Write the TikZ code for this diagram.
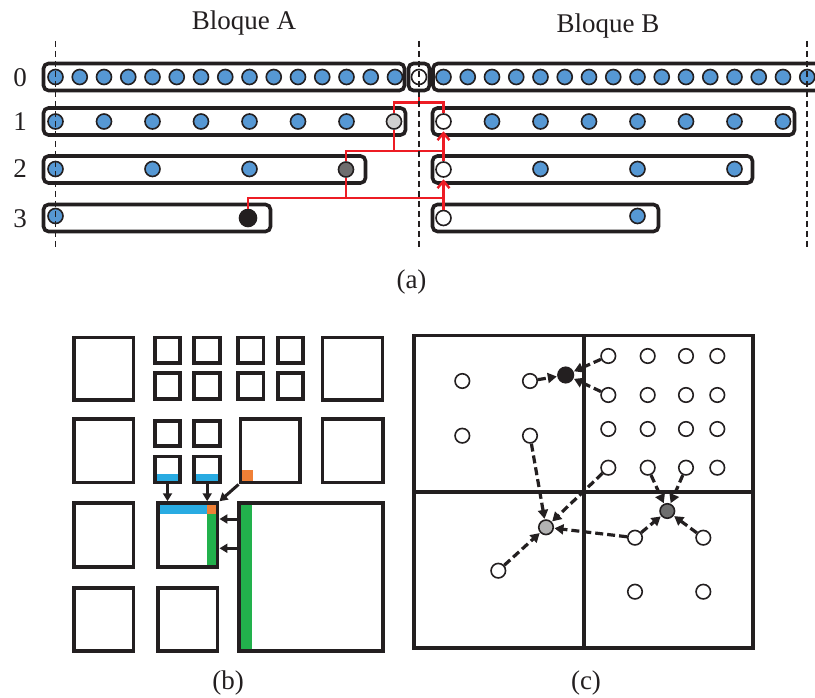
\documentclass[tikz,border=0pt]{standalone}
\usepackage{fontspec}
\setmainfont{Liberation Serif}
\usetikzlibrary{arrows.meta,calc}

\definecolor{inkblack}{RGB}{35,31,32}
\definecolor{dotblue}{RGB}{86,152,212}
\definecolor{lgrey}{RGB}{208,208,208}
\definecolor{mgrey}{RGB}{178,178,178}
\definecolor{dgrey}{RGB}{110,110,110}
\definecolor{linkred}{RGB}{237,28,36}
\definecolor{stripblue}{RGB}{41,171,226}
\definecolor{stripgreen}{RGB}{34,177,76}
\definecolor{striporange}{RGB}{240,128,54}

% square cell of the block layout, given by its line-centre corners
\newcommand\mkcell[5]{%
  \node[cellsq, minimum width={#4-#2}, minimum height={#5-#3}] (#1)
    at ({(#2+#4)/2},{(#3+#5)/2}) {};}

\begin{document}
\begin{tikzpicture}[x=1pt,y=-1pt,
  lbl/.style={font=\fontsize{27}{30}\selectfont, anchor=base, inner sep=0, text=inkblack},
  dot/.style={circle, draw=inkblack, line width=1.6pt, minimum size=15pt, inner sep=0},
  bluedot/.style={dot, fill=dotblue},
  hollow/.style={dot, fill=white},
  rowbox/.style={draw=inkblack, line width=3.6pt, rounded corners=5pt},
  guide/.style={draw=inkblack, line width=1.7pt, dash pattern=on 6pt off 4pt},
  link/.style={draw=linkred, line width=2.4pt},
  uplink/.style={link, -{Straight Barb[length=7pt,width=12pt,line width=2.4pt]}, shorten >=1.5pt},
  cellsq/.style={draw=inkblack, line width=3.9pt, inner sep=0},
  barrow/.style={draw=inkblack, line width=3pt, -{Triangle[length=8pt,width=9pt]}},
  quad/.style={draw=inkblack, line width=3.9pt},
  pt/.style={circle, draw=inkblack, line width=1.6pt, minimum size=14.5pt, inner sep=0, fill=white},
  darrow/.style={draw=inkblack, line width=3.2pt, dash pattern=on 8pt off 4pt,
                 -{Triangle[length=9pt,width=10pt]}, shorten >=0.5pt}
]
\useasboundingbox (0,0) rectangle (815,698);
\clip (0,0) rectangle (815,698);

% ---------------- (a) levels of the two blocks ----------------
\node[lbl] (tA) at (244,29.5) {Bloque A};
\node[lbl] (tB) at (608,33) {Bloque B};

\node[lbl] (l0) at (20,86.5) {0};
\node[lbl] (l1) at (20,131) {1};
\node[lbl] (l2) at (20,178) {2};
\node[lbl] (l3) at (20,227.5) {3};

% level boxes
\draw[rowbox] (43.5,63.5) rectangle (404.5,90.5);
\draw[rowbox] (433,63.5) rectangle (860,90.5);
\node[rowbox, minimum width=21pt, minimum height=27pt, inner sep=0] (cell) at (419,77) {};
\draw[rowbox] (43.5,108) rectangle (405.5,135);
\draw[rowbox] (432.5,108) rectangle (794.5,135);
\draw[rowbox] (43.5,156) rectangle (365.5,183);
\draw[rowbox] (432.5,156) rectangle (752.5,183);
\draw[rowbox] (43.5,204.5) rectangle (270.5,231.5);
\draw[rowbox] (432.5,204.5) rectangle (658.5,231.5);

% level 0
\foreach \k in {0,...,14,16,17,...,31}
  \node[bluedot] (r0-\k) at ({55.5+24.25*\k},77) {};
\node[hollow] (r0h) at (419,77) {};

% level 1
\foreach \k in {0,...,6}
  \node[bluedot] (a1-\k) at ({55.5+48.5*\k},121.5) {};
\node[dot, fill=lgrey] (a1g) at (394,121.5) {};
\node[hollow] (b1h) at (443.5,121.5) {};
\foreach \k in {1,...,7}
  \node[bluedot] (b1-\k) at ({443.5+48.5*\k},121.5) {};

% level 2
\foreach \k in {0,...,2}
  \node[bluedot] (a2-\k) at ({55.5+97*\k},169) {};
\node[dot, fill=dgrey] (a2g) at (346,169.5) {};
\node[hollow] (b2h) at (443.5,169.5) {};
\foreach \k in {1,...,3}
  \node[bluedot] (b2-\k) at ({443.5+97*\k},169) {};

% level 3
\node[bluedot] (a3-0) at (55.5,216) {};
\node[dot, fill=inkblack, minimum size=17pt] (a3k) at (248,218) {};
\node[hollow] (b3h) at (443.5,218) {};
\node[bluedot] (b3-1) at (637.5,216) {};

% red links between levels
\coordinate (j0) at (419,102.5);
\coordinate (y1) at (0,151);
\coordinate (y2) at (0,198);
\draw[link] (cell.south) -- (j0);
\draw[link] (a1g.north) |- (j0) -| (b1h.north);
\draw[link] (a1g.south) -- (a1g.south |- y1);
\draw[link] (a2g.north) |- (b1h.south |- y1);
\draw[link] (a2g.south) -- (a2g.south |- y2);
\draw[link] (a3k.north) |- (b3h.north |- y2) -- (b3h.north);
\draw[uplink] (b2h.north) -- (b1h.south);
\draw[uplink] (b3h.north) -- (b2h.south);

% block boundaries
\draw[guide] (55.5,41) -- (55.5,250);
\draw[guide] (419,41) -- (419,250);
\draw[guide] (807,41) -- (807,250);

\node[lbl] (capa) at (411.5,288) {(a)};

% ---------------- (b) block layout ----------------
% coloured strips
\fill[stripblue] (154.8,474) rectangle (180.2,482.5);
\fill[stripblue] (194.2,474) rectangle (220.2,482.5);
\fill[striporange] (240.5,470) rectangle (253,482.5);
\fill[stripblue] (158.2,503.2) rectangle (207,514.3);
\fill[striporange] (207,503.2) rectangle (217.5,514.3);
\fill[stripgreen] (207,514.3) rectangle (217.5,566.8);
\fill[stripgreen] (239.2,503.2) rectangle (252.3,651.2);

% first row
\mkcell{q11}{74.2}{337.5}{133.5}{400.2}
\mkcell{s1a}{154.8}{337.5}{180.2}{362.8}
\mkcell{s1b}{194.2}{337.5}{220.2}{362.8}
\mkcell{s1c}{238.2}{337.5}{263.5}{362.8}
\mkcell{s1d}{278.2}{337.5}{302.8}{362.8}
\mkcell{s2a}{154.8}{373.2}{180.2}{399.2}
\mkcell{s2b}{194.2}{373.2}{220.2}{399.2}
\mkcell{s2c}{238.2}{373.2}{263.5}{399.2}
\mkcell{s2d}{278.2}{373.2}{302.8}{399.2}
\mkcell{q16}{322.5}{337.5}{382.5}{400.2}
% second row
\mkcell{q21}{74.2}{419.2}{133.5}{482.5}
\mkcell{t1a}{154.8}{420.8}{180.2}{445.8}
\mkcell{t1b}{194.2}{420.8}{220.2}{445.8}
\mkcell{t2a}{154.8}{456.5}{180.2}{482.5}
\mkcell{t2b}{194.2}{456.5}{220.2}{482.5}
\mkcell{med}{240.5}{419.2}{300.2}{482.5}
\mkcell{q26}{322.5}{419.2}{382.8}{482.5}
% third and fourth rows
\mkcell{q31}{74.2}{503.2}{133.5}{566.8}
\mkcell{tgt}{158.2}{503.2}{217.5}{566.8}
\mkcell{huge}{239.2}{503.2}{382.8}{651.2}
\mkcell{q41}{74.2}{588.2}{133.5}{651.2}
\mkcell{q42}{158.2}{588.2}{217.5}{651.2}

% dependencies of the target block
\coordinate (h1) at (0,519);
\coordinate (h2) at (0,548.3);
\draw[barrow] (t2a.south) -- (t2a.south |- tgt.north);
\draw[barrow] (t2b.south) -- (t2b.south |- tgt.north);
\draw[barrow] (med.south west) -- (tgt.north east);
\draw[barrow] (huge.west |- h1) -- (tgt.east |- h1);
\draw[barrow] (huge.west |- h2) -- (tgt.east |- h2);

\node[lbl] (capb) at (228,689) {(b)};

% ---------------- (c) quadrants ----------------
\draw[quad] (413.8,335.5) rectangle (752.8,647.8);
\draw[quad] (584,335.5) -- (584,647.8);
\draw[quad] (413.8,491.7) -- (752.8,491.7);

\node[pt] (cA) at (462.3,381) {};
\node[pt] (cB) at (530,381) {};
\node[pt] (cC) at (462.3,435.7) {};
\node[pt] (cD) at (530,435.7) {};
\foreach \i/\xx in {1/608.3,2/647.7,3/686,4/717.3}
  \foreach \j/\yy in {1/356,2/395,3/429,4/467.7}
    \node[pt] (g\j\i) at (\xx,\yy) {};
\node[pt] (cE) at (498.3,570.7) {};
\node[pt] (cF) at (635,537.7) {};
\node[pt] (cG) at (703.3,537.7) {};
\node[pt] (cH) at (635,591.7) {};
\node[pt] (cI) at (703.3,591.7) {};
\node[pt, fill=inkblack, minimum size=15.5pt] (cK) at (565.7,375) {};
\node[pt, fill=mgrey] (cL) at (546,527.3) {};
\node[pt, fill=dgrey] (cM) at (667.3,511) {};

\draw[darrow] (cB) -- (cK);
\draw[darrow] (g11) -- (cK);
\draw[darrow] (g21) -- (cK);
\draw[darrow] (cD) -- (cL);
\draw[darrow] (g41) -- (cL);
\draw[darrow] (cE) -- (cL);
\draw[darrow] (cF) -- (cL);
\draw[darrow] (cF) -- (cM);
\draw[darrow] (g42) -- (cM);
\draw[darrow] (g43) -- (cM);
\draw[darrow] (cG) -- (cM);

\node[lbl] (capc) at (586,689) {(c)};
\end{tikzpicture}
\end{document}
